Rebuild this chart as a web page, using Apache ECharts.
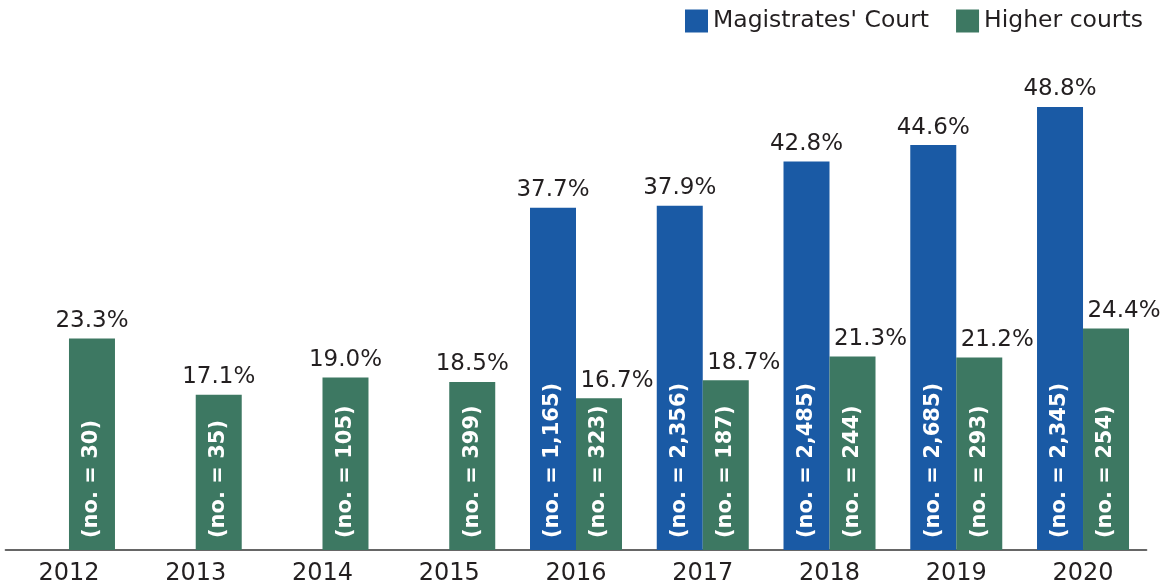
<!DOCTYPE html>
<html><head><meta charset="utf-8">
<script src="https://cdn.jsdelivr.net/npm/echarts@6/dist/echarts.min.js"></script>
<style>html,body{margin:0;padding:0;background:#fff}#c{width:1172px;height:587px}</style>
</head><body><div id="c"></div>
<script>
const years = ['2012','2013','2014','2015','2016','2017','2018','2019','2020'];
const magistratesPct = [null, null, null, null, 37.7, 37.9, 42.8, 44.6, 48.8];
const higherPct = [23.3, 17.1, 19.0, 18.5, 16.7, 18.7, 21.3, 21.2, 24.4];
const magistratesN = [null, null, null, null, 1165, 2356, 2485, 2685, 2345];
const higherN = [30, 35, 105, 399, 323, 187, 244, 293, 254];

const FONT = 'DejaVu Sans';
const BLUE = '#1A5AA5', GREEN = '#3D7862', TXT = '#231f20';
const fmtN = n => n.toLocaleString('en-US');

const insideLabel = (counts) => ({
  show: true, position: 'insideBottom', distance: 12, rotate: 90,
  align: 'left', verticalAlign: 'middle',
  color: '#fff', fontFamily: FONT, fontWeight: 'bold', fontSize: 21,
  formatter: p => '(no. = ' + fmtN(counts[p.dataIndex]) + ')'
});
const topLabel = {
  show: true, position: 'top', distance: 6,
  color: TXT, fontFamily: FONT, fontSize: 23,
  formatter: p => p.value.toFixed(1) + '%'
};

const chart = echarts.init(document.getElementById('c'), null, {renderer: 'canvas'});
chart.setOption({
  animation: false,
  grid: {left: 5.6, right: 25.6, top: 96, bottom: 37, containLabel: false},
  legend: {
    left: 680, top: 4, itemWidth: 23, itemHeight: 23, itemGap: 27,
    icon: 'rect',
    textStyle: {color: TXT, fontFamily: FONT, fontSize: 23.5},
    data: ["Magistrates' Court", 'Higher courts']
  },
  xAxis: [
    {type: 'category', data: years,
     axisLine: {lineStyle: {color: '#666', width: 2}},
     axisTick: {show: false},
     axisLabel: {color: TXT, fontFamily: FONT, fontSize: 24, margin: 12}},
    {type: 'category', data: years, show: false}
  ],
  yAxis: {type: 'value', min: 0, max: 50, show: false, splitLine: {show: false}},
  series: [
    {name: "Magistrates' Court", type: 'bar', xAxisIndex: 0, data: magistratesPct,
     barWidth: 46, barGap: '0%', itemStyle: {color: BLUE}, label: insideLabel(magistratesN)},
    {name: 'Higher courts', type: 'bar', xAxisIndex: 0, data: higherPct,
     barWidth: 46, barGap: '0%', itemStyle: {color: GREEN}, label: insideLabel(higherN)},
    {name: 'mTop', type: 'bar', xAxisIndex: 1, data: magistratesPct,
     barWidth: 46, barGap: '0%', itemStyle: {color: 'rgba(0,0,0,0)'}, label: topLabel, silent: true},
    {name: 'hTop', type: 'bar', xAxisIndex: 1,
     data: higherPct.map((v, i) => magistratesPct[i] == null ? v : {value: v, label: {offset: [18, 0]}}),
     barWidth: 46, barGap: '0%', itemStyle: {color: 'rgba(0,0,0,0)'}, label: topLabel, silent: true}
  ]
});
</script></body></html>
